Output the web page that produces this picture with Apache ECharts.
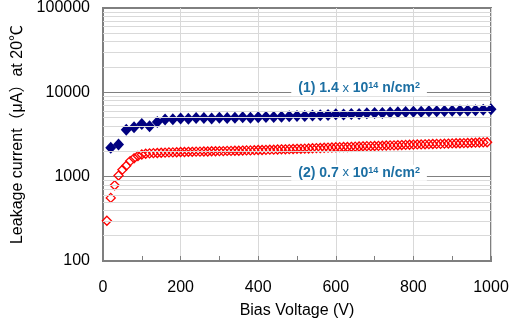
<!DOCTYPE html>
<html>
<head>
<meta charset="utf-8">
<script src="https://cdn.jsdelivr.net/npm/echarts@6/dist/echarts.min.js"></script>
<style>
  html, body { margin: 0; padding: 0; background: #fff; }
  #chart { width: 516px; height: 324px; }
</style>
</head>
<body>
<div id="chart"></div>
<script>
const font = "'Liberation Sans', Arial, 'Noto Sans CJK JP', sans-serif";

// series (1): 1.4e14 n/cm2, every 20 V
const voltage1 = [
  20, 40, 60, 80, 100, 120, 140, 160, 180, 200,
  220, 240, 260, 280, 300, 320, 340, 360, 380, 400,
  420, 440, 460, 480, 500, 520, 540, 560, 580, 600,
  620, 640, 660, 680, 700, 720, 740, 760, 780, 800,
  820, 840, 860, 880, 900, 920, 940, 960, 980, 1000
];
const current1 = [
  2200, 2400, 3600, 3850, 4200, 3950, 4450, 4750, 4800, 4900,
  4850, 4950, 4950, 4900, 5000, 4950, 5000, 5050, 5000, 5050,
  5100, 5100, 5150, 5200, 5250, 5250, 5300, 5350, 5400, 5500,
  5450, 5550, 5550, 5650, 5700, 5700, 5750, 5800, 5850, 5900,
  5900, 5950, 5950, 6000, 6050, 6100, 6100, 6150, 6200, 6300
];

// series (2): 0.7e14 n/cm2, every 10 V
const voltage2 = [
  10, 20, 30, 40, 50, 60, 70, 80, 90, 100,
  110, 120, 130, 140, 150, 160, 170, 180, 190, 200,
  210, 220, 230, 240, 250, 260, 270, 280, 290, 300,
  310, 320, 330, 340, 350, 360, 370, 380, 390, 400,
  410, 420, 430, 440, 450, 460, 470, 480, 490, 500,
  510, 520, 530, 540, 550, 560, 570, 580, 590, 600,
  610, 620, 630, 640, 650, 660, 670, 680, 690, 700,
  710, 720, 730, 740, 750, 760, 770, 780, 790, 800,
  810, 820, 830, 840, 850, 860, 870, 880, 890, 900,
  910, 920, 930, 940, 950, 960, 970, 980, 990
];
const current2 = [
  300, 560, 790, 1030, 1210, 1350, 1530, 1650, 1760, 1830,
  1870, 1890, 1900, 1910, 1920, 1930, 1940, 1940, 1950, 1960,
  1960, 1970, 1970, 1980, 1980, 1990, 1990, 2000, 2000, 2010,
  2010, 2020, 2020, 2030, 2030, 2040, 2050, 2050, 2060, 2070,
  2070, 2080, 2090, 2090, 2100, 2110, 2110, 2120, 2130, 2140,
  2140, 2150, 2160, 2170, 2180, 2190, 2200, 2210, 2220, 2230,
  2240, 2250, 2250, 2260, 2270, 2280, 2290, 2300, 2300, 2310,
  2320, 2330, 2340, 2350, 2350, 2360, 2370, 2380, 2390, 2400,
  2410, 2410, 2420, 2430, 2440, 2450, 2450, 2460, 2470, 2480,
  2490, 2490, 2500, 2510, 2520, 2530, 2540, 2550, 2560
];

const xTicks = [0, 200, 400, 600, 800, 1000];
const yMajor = [100, 1000, 10000, 100000];
const yMinor = [
  200, 300, 400, 500, 600, 700, 800, 900,
  2000, 3000, 4000, 5000, 6000, 7000, 8000, 9000,
  20000, 30000, 40000, 50000, 60000, 70000, 80000, 90000
];

const label1 = "(1) 1.4 ";
const label2 = "(2) 0.7 ";

const chart = echarts.init(document.getElementById("chart"));

const zip = (xs, ys) => xs.map((x, i) => [x, ys[i]]);

chart.setOption({
  animation: false,
  grid: {
    left: 103,
    right: 25,
    top: 6,
    bottom: 63,
    show: true,
    borderColor: "#7f7f7f",
    borderWidth: 2,
  },
  xAxis: {
    type: "value",
    min: xTicks[0],
    max: xTicks[xTicks.length - 1],
    interval: 200,
    name: "Bias Voltage (V)",
    nameLocation: "middle",
    nameGap: 42,
    nameTextStyle: { color: "#000", fontSize: 16, fontFamily: font },
    axisLine: { lineStyle: { color: "#7f7f7f", width: 2 } },
    axisTick: { inside: true, length: 5, lineStyle: { color: "#7f7f7f" } },
    minorTick: { show: true, splitNumber: 2, length: 5, lineStyle: { color: "#7f7f7f" } },
    axisLabel: { color: "#000", fontSize: 16, fontFamily: font, margin: 19, formatter: (v) => String(v) },
    splitLine: { show: true, lineStyle: { color: "#d9d9d9", width: 1 } },
  },
  yAxis: {
    type: "log",
    logBase: 10,
    min: yMajor[0],
    max: yMajor[yMajor.length - 1],
    name: "Leakage current（μA）at 20℃",
    nameLocation: "middle",
    nameGap: 76,
    nameTextStyle: { color: "#000", fontSize: 16, fontFamily: font },
    axisLine: { lineStyle: { color: "#7f7f7f", width: 2 } },
    axisTick: { show: false },
    axisLabel: { color: "#000", fontSize: 16, fontFamily: font, margin: 13, formatter: (v) => String(Math.round(v)) },
    splitLine: { show: true, lineStyle: { color: "#808080", width: 1 } },
  },
  series: [
    {
      // minor log grid lines
      type: "line",
      data: [],
      silent: true,
      markLine: {
        silent: true,
        symbol: "none",
        label: { show: false },
        lineStyle: { color: "#d9d9d9", type: "solid", width: 1 },
        data: yMinor.map((v) => ({ yAxis: v })),
      },
    },
    {
      name: "0.7e14",
      type: "scatter",
      data: zip(voltage2, current2),
      symbol: "diamond",
      symbolSize: 9,
      itemStyle: { color: "rgba(0,0,0,0)", borderColor: "#ff0000", borderWidth: 1.3, opacity: 1 },
    },
    {
      name: "1.4e14",
      type: "scatter",
      data: zip(voltage1, current1),
      symbol: "diamond",
      symbolSize: [11, 12],
      itemStyle: { color: "#000080", opacity: 1 },
    },
  ],
});

const labelColor = "#1c6fa3";
const rich = {
  a: { fontSize: 14, fontWeight: "bold", fontFamily: font, fill: labelColor },
  x: { fontSize: 13, fontFamily: font, fill: labelColor },
  s: { fontSize: 9, fontWeight: "bold", fontFamily: font, fill: labelColor, verticalAlign: "top" },
};
const makeLabel = (prefix, value) => {
  const p = chart.convertToPixel({ xAxisIndex: 0, yAxisIndex: 0 }, [660, value]);
  return {
    type: "text",
    x: p[0],
    y: p[1] - 4,
    z: 100,
    style: {
      text: "{a|" + prefix + "}{x|x }{a|10}{s|14}{a| n/cm}{s|2}",
      rich: rich,
      fill: labelColor,
      align: "center",
      verticalAlign: "middle",
      backgroundColor: "#fff",
      padding: [1, 7, 1, 7],
    },
  };
};

chart.setOption({
  graphic: [makeLabel(label1, 10000), makeLabel(label2, 1000)],
});
</script>
</body>
</html>
